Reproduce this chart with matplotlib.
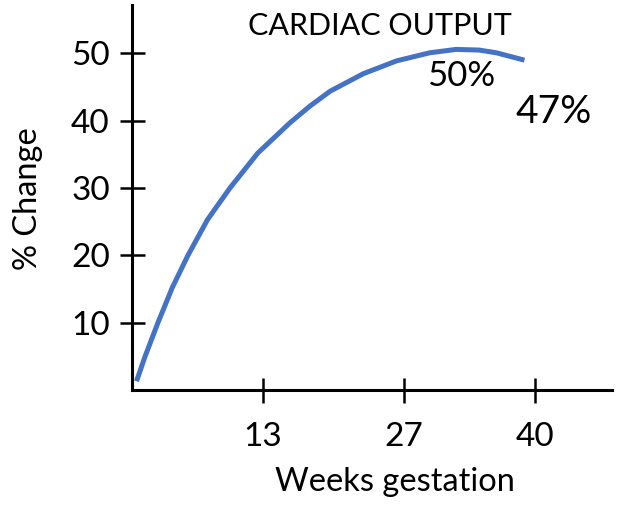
import matplotlib
matplotlib.use('Agg')
import matplotlib.pyplot as plt

plt.rcParams['font.family'] = ['Lato', 'DejaVu Sans']

# curve (weeks, % change)
weeks = [0.45, 1.3, 2.58, 4.0, 5.56, 7.5, 9.73, 12.5, 15.7, 17.7, 19.7,
         23.0, 26.3, 29.6, 32.2, 34.5, 36.2, 39.0]
change = [1.3, 5.0, 10.0, 15.2, 20.0, 25.3, 30.0, 35.2, 39.7, 42.2, 44.4,
          47.0, 48.9, 50.1, 50.6, 50.5, 50.1, 49.0]

x_ticks = [13, 27, 40]
y_ticks = [10, 20, 30, 40, 50]


def main():
    fig = plt.figure(figsize=(6.34, 5.08), dpi=100)
    ax = fig.add_axes([0.2082, 0.2323, 0.7571, 0.7579])

    ax.plot(weeks, change, color='#4472C4', linewidth=3.6,
            solid_capstyle='butt', solid_joinstyle='round')

    ax.set_xlim(0, 47.7)
    ax.set_ylim(0, 57.2)

    ax.spines['top'].set_visible(False)
    ax.spines['right'].set_visible(False)
    for s in ('left', 'bottom'):
        ax.spines[s].set_linewidth(2.2)
        ax.spines[s].set_color('black')

    ax.set_xticks(x_ticks)
    ax.set_yticks(y_ticks)
    ax.tick_params(direction='inout', length=18, width=1.8, labelsize=24)
    ax.tick_params(axis='y', pad=7)
    ax.tick_params(axis='x', pad=14)

    ax.set_xlabel('Weeks gestation', fontsize=23.5, va='baseline')
    ax.xaxis.set_label_coords(0.548, -0.262)
    ax.set_ylabel('% Change', fontsize=23.5, va='center')
    ax.yaxis.set_label_coords(-0.217, 0.496)

    ax.text(24.6, 52.7, 'CARDIAC OUTPUT', fontsize=22, ha='center', va='baseline')
    ax.text(32.7, 45.1, '50%', fontsize=25, ha='center', va='baseline')
    ax.text(41.9, 39.6, '47%', fontsize=28, ha='center', va='baseline')

    plt.savefig('out.png', dpi=100)


if __name__ == '__main__':
    main()
